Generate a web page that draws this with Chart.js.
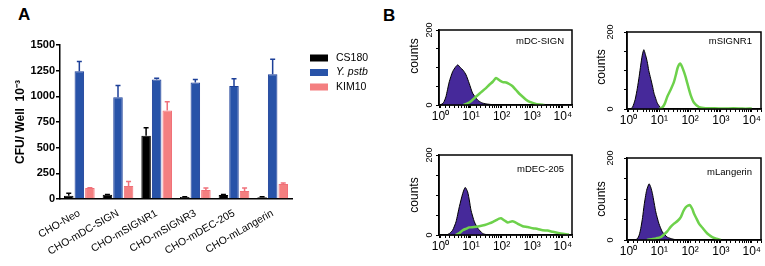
<!DOCTYPE html>
<html>
<head>
<meta charset="utf-8">
<script src="https://cdn.jsdelivr.net/npm/chart.js@4.4.1/dist/chart.umd.min.js"></script>
<style>
  body { margin: 0; background: #fff; }
  #fig { position: relative; width: 765px; height: 266px; overflow: hidden; font-family: Arial, "Liberation Sans", sans-serif; }
  canvas { position: absolute; }
  .tag { position: absolute; font-weight: bold; font-size: 17px; color: #000; }
</style>
</head>
<body>
<div id="fig">
  <div class="tag" style="left:18px; top:5px;">A</div>
  <div class="tag" style="left:383px; top:6px;">B</div>
  <canvas id="barChart" width="400" height="266" style="left:0; top:0;"></canvas>
  <canvas id="hist1" width="176" height="120" style="left:400px; top:10px;"></canvas>
  <canvas id="hist2" width="177" height="122" style="left:588px; top:12px;"></canvas>
  <canvas id="hist3" width="176" height="125" style="left:400px; top:135px;"></canvas>
  <canvas id="hist4" width="177" height="128" style="left:588px; top:138px;"></canvas>
</div>
<script>
// panel A: bacteria recovered per well
const cellLines = ['CHO-Neo', 'CHO-mDC-SIGN', 'CHO-mSIGNR1', 'CHO-mSIGNR3', 'CHO-mDEC-205', 'CHO-mLangerin'];
const cs180Mean = [32, 42, 615, 20, 38, 18];
const cs180Sd   = [25, 3, 78, 3, 6, 3];
const ypstbMean = [1245, 990, 1165, 1135, 1100, 1215];
const ypstbSd   = [95, 115, 10, 28, 72, 145];
const kim10Mean = [108, 127, 863, 88, 78, 147];
const kim10Sd   = [2, 43, 85, 18, 28, 10];
const cfuTicks  = [0, 250, 500, 750, 1000, 1250, 1500];

// panel B: flow histograms (decade position, counts)
const dcNegLog  = [0, 0.1, 0.18, 0.29, 0.4, 0.5, 0.57, 0.65, 0.75, 0.84, 0.94, 1.05, 1.15, 1.22, 1.35, 1.49, 1.7, 2.0];
const dcNegCnt  = [0, 6, 22, 62, 89, 102, 107, 100, 92, 80, 58, 32, 20, 13, 6, 3, 1, 0];
const dcPosLog  = [0.75, 0.85, 1.0, 1.16, 1.3, 1.49, 1.6, 1.71, 1.82, 1.93, 2.04, 2.15, 2.25, 2.36, 2.47, 2.58, 2.69, 2.8, 2.9, 3.12, 3.4];
const dcPosCnt  = [0, 3, 10, 22, 32, 45, 54, 62, 72, 66, 61, 60, 56, 50, 40, 30, 22, 14, 9, 3, 0];

const r1NegLog  = [0.05, 0.13, 0.22, 0.29, 0.35, 0.4, 0.45, 0.5, 0.55, 0.61, 0.66, 0.72, 0.78, 0.83, 0.9, 0.94, 1.05, 1.2];
const r1NegCnt  = [0, 4, 25, 54, 85, 114, 140, 154, 142, 123, 100, 80, 60, 41, 24, 15, 3, 0];
const r1PosLog  = [1.0, 1.1, 1.18, 1.26, 1.37, 1.48, 1.55, 1.6, 1.68, 1.74, 1.8, 1.86, 1.91, 2.02, 2.13, 2.29, 2.5, 2.8, 3.1, 3.4, 3.7, 4.0];
const r1PosCnt  = [0, 4, 14, 32, 50, 71, 92, 108, 118, 110, 97, 82, 67, 36, 16, 5, 2, 2, 1, 2, 1, 1];

const decNegLog = [0.2, 0.3, 0.4, 0.51, 0.62, 0.73, 0.81, 0.89, 0.95, 1.0, 1.11, 1.22, 1.38, 1.5, 1.7];
const decNegCnt = [0, 4, 12, 33, 71, 104, 119, 108, 85, 62, 33, 17, 4, 1, 0];
const decPosLog = [0.5, 0.62, 0.73, 0.85, 0.94, 1.1, 1.27, 1.45, 1.6, 1.72, 1.82, 1.92, 1.98, 2.08, 2.2, 2.32, 2.42, 2.55, 2.69, 2.85, 3.02, 3.18, 3.34, 3.5, 3.67, 3.85, 4.0, 4.2];
const decPosCnt = [0, 5, 12, 16, 19, 20, 22, 25, 29, 33, 37, 41, 42, 37, 31, 34, 33, 27, 22, 20, 17, 15, 12, 11, 8, 5, 3, 1];

const lanNegLog = [0.2, 0.29, 0.35, 0.4, 0.46, 0.51, 0.59, 0.67, 0.72, 0.78, 0.89, 0.99, 1.1, 1.26, 1.45, 1.6];
const lanNegCnt = [0, 3, 12, 28, 55, 85, 121, 137, 130, 113, 68, 40, 20, 7, 2, 0];
const lanPosLog = [0.6, 0.75, 0.9, 1.05, 1.15, 1.26, 1.37, 1.48, 1.6, 1.7, 1.78, 1.86, 1.93, 2.0, 2.07, 2.13, 2.21, 2.29, 2.4, 2.51, 2.62, 2.72, 2.85, 3.0];
const lanPosCnt = [0, 2, 4, 7, 13, 21, 32, 40, 47, 56, 70, 80, 84, 85, 76, 64, 52, 40, 30, 20, 12, 7, 3, 0];

const FONT = 'Arial, "Liberation Sans", sans-serif';
const SUP = { 0: '⁰', 1: '¹', 2: '²', 3: '³', 4: '⁴' };

// error bars, upper side only
const errorBars = {
  id: 'errorBars',
  afterDatasetsDraw(chart) {
    const ctx = chart.ctx;
    const y = chart.scales.y;
    chart.data.datasets.forEach((ds, i) => {
      chart.getDatasetMeta(i).data.forEach((bar, j) => {
        const sd = ds.errors[j];
        if (!sd) return;
        const top = y.getPixelForValue(ds.data[j] + sd);
        ctx.save();
        ctx.strokeStyle = ds.errColor;
        ctx.lineWidth = 1.5;
        ctx.beginPath();
        ctx.moveTo(bar.x, bar.y);
        ctx.lineTo(bar.x, top);
        ctx.moveTo(bar.x - 2.5, top);
        ctx.lineTo(bar.x + 2.5, top);
        ctx.stroke();
        ctx.restore();
      });
    });
  }
};

// legend to the right of the bars
const sideLegend = {
  id: 'sideLegend',
  afterDraw(chart) {
    const ctx = chart.ctx;
    chart.data.datasets.forEach((ds, i) => {
      const cy = 58 + i * 14.5;
      ctx.save();
      ctx.fillStyle = ds.backgroundColor;
      ctx.fillRect(310, cy - 3.5, 18, 7);
      ctx.fillStyle = '#000';
      ctx.font = (ds.label === 'Y. pstb' ? 'italic ' : '') + '10.5px ' + FONT;
      ctx.textBaseline = 'middle';
      ctx.fillText(ds.label, 336, cy);
      ctx.restore();
    });
  }
};

new Chart(document.getElementById('barChart'), {
  type: 'bar',
  data: {
    labels: cellLines,
    datasets: [
      { label: 'CS180', data: cs180Mean, errors: cs180Sd, errColor: '#000',
        backgroundColor: '#000000', borderColor: '#000000', borderWidth: 1 },
      { label: 'Y. pstb', data: ypstbMean, errors: ypstbSd, errColor: '#1c3f98',
        backgroundColor: '#2853a8', borderColor: '#1c3f98', borderWidth: 1 },
      { label: 'KIM10', data: kim10Mean, errors: kim10Sd, errColor: '#f0707a',
        backgroundColor: '#f47f80', borderColor: '#f07078', borderWidth: 1 }
    ]
  },
  options: {
    responsive: false,
    animation: false,
    devicePixelRatio: 1,
    layout: { padding: { top: 45, right: 108, left: 0, bottom: 0 } },
    plugins: { legend: { display: false }, tooltip: { enabled: false } },
    datasets: { bar: { categoryPercentage: 0.82, barPercentage: 0.9 } },
    scales: {
      x: {
        grid: { display: false },
        border: { display: true, color: '#000', width: 1.5 },
        ticks: { color: '#000', font: { family: FONT, size: 10.5 }, minRotation: 30, maxRotation: 30, padding: 0, autoSkip: false },
        afterFit: s => { s.height = 67; }
      },
      y: {
        min: 0, max: 1500,
        afterBuildTicks: s => { s.ticks = cfuTicks.map(v => ({ value: v })); },
        ticks: { color: '#000', font: { family: FONT, size: 11, weight: 'bold' }, padding: 1, callback: v => String(v) },
        grid: { drawOnChartArea: false, color: '#000', lineWidth: 1.5, tickLength: 4 },
        border: { color: '#000', width: 1.5 },
        title: { display: true, text: 'CFU/ Well  10⁻³', color: '#000', font: { family: FONT, size: 12, weight: 'bold' }, padding: { top: 13 } },
        afterFit: s => { s.width = 60; }
      }
    }
  },
  plugins: [errorBars, sideLegend]
});

// frame, rotated y labels and panel name for each histogram
const histDecor = {
  id: 'histDecor',
  afterDraw(chart, args, o) {
    const ctx = chart.ctx;
    const a = chart.chartArea;
    const y = chart.scales.y;
    ctx.save();
    ctx.strokeStyle = '#000';
    ctx.lineWidth = 1.5;
    ctx.strokeRect(a.left, a.top, a.right - a.left, a.bottom - a.top);
    ctx.fillStyle = '#000';
    ctx.textAlign = 'center';
    ctx.textBaseline = 'middle';
    [[200, '200'], [0, '0']].forEach(([v, t]) => {
      ctx.save();
      ctx.translate(a.left - o.numGap, y.getPixelForValue(v));
      ctx.rotate(-Math.PI / 2);
      ctx.font = '9px ' + FONT;
      ctx.fillText(t, 0, 0);
      ctx.restore();
    });
    ctx.save();
    ctx.translate(a.left - o.countsGap, a.top + o.countsY);
    ctx.rotate(-Math.PI / 2);
    ctx.font = '12px ' + FONT;
    ctx.fillText('counts', 0, 0);
    ctx.restore();
    ctx.textAlign = 'right';
    ctx.textBaseline = 'alphabetic';
    ctx.font = '9.5px ' + FONT;
    ctx.fillText(o.name, a.right - o.nameGap, a.top + o.nameY);
    ctx.restore();
  }
};

function toPoints(logs, counts) {
  return logs.map((p, k) => ({ x: Math.pow(10, p), y: counts[k] }));
}

function makeHist(id, negLog, negCnt, posLog, posCnt, decor, xHeight) {
  new Chart(document.getElementById(id), {
    type: 'line',
    data: {
      datasets: [
        { data: toPoints(posLog, posCnt), borderColor: '#6dd14b', borderWidth: 2.5, fill: false,
          pointRadius: 0, tension: 0.2 },
        { data: toPoints(negLog, negCnt), borderColor: '#000', borderWidth: 1, backgroundColor: '#46299a',
          fill: 'origin', pointRadius: 0, tension: 0.2 }
      ]
    },
    options: {
      responsive: false,
      animation: false,
      devicePixelRatio: 1,
      layout: { padding: { top: 20, right: 4, left: 0, bottom: 0 } },
      plugins: { legend: { display: false }, tooltip: { enabled: false }, histDecor: decor },
      scales: {
        x: {
          type: 'logarithmic', min: 0.9, max: 20000,
          grid: { drawOnChartArea: false, color: '#000', tickLength: 3, lineWidth: 1 },
          border: { color: '#000', width: 1.5 },
          ticks: {
            autoSkip: false, maxRotation: 0, color: '#000', padding: 1,
            font: { family: FONT, size: 12 },
            callback: v => {
              const p = Math.log10(v);
              return Math.abs(p - Math.round(p)) < 1e-6 && p >= 0 ? '10' + SUP[Math.round(p)] : '';
            }
          },
          afterFit: s => { s.height = xHeight; }
        },
        y: {
          min: 0, max: 200,
          ticks: { stepSize: 10, maxTicksLimit: 30, callback: () => '' },
          grid: { drawOnChartArea: false, color: '#000', tickLength: 3, lineWidth: 1 },
          border: { color: '#000', width: 1.5 },
          afterFit: s => { s.width = 39; }
        }
      }
    },
    plugins: [histDecor]
  });
}

makeHist('hist1', dcNegLog, dcNegCnt, dcPosLog, dcPosCnt,
  { name: 'mDC-SIGN', numGap: 9.5, countsGap: 24.5, countsY: 26, nameGap: 8, nameY: 14 }, 25);
makeHist('hist2', r1NegLog, r1NegCnt, r1PosLog, r1PosCnt,
  { name: 'mSIGNR1', numGap: 16, countsGap: 25, countsY: 35, nameGap: 9, nameY: 12 }, 25);
makeHist('hist3', decNegLog, decNegCnt, decPosLog, decPosCnt,
  { name: 'mDEC-205', numGap: 9.5, countsGap: 24, countsY: 40, nameGap: 8, nameY: 17 }, 25);
makeHist('hist4', lanNegLog, lanNegCnt, lanPosLog, lanPosCnt,
  { name: 'mLangerin', numGap: 16, countsGap: 25, countsY: 41, nameGap: 9, nameY: 17 }, 26);
</script>
</body>
</html>
